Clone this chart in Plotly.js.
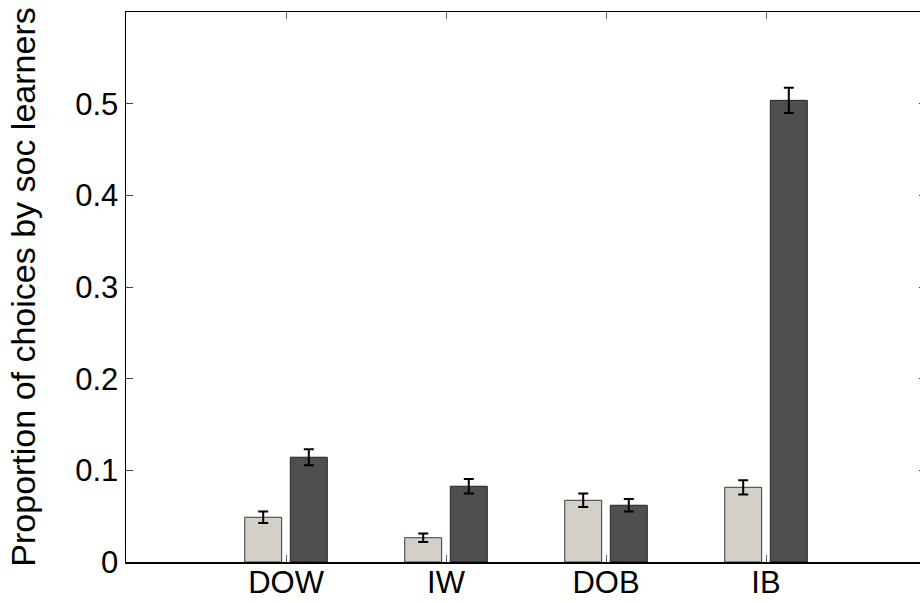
<!DOCTYPE html>
<html>
<head>
<meta charset="utf-8">
<script src="https://cdn.plot.ly/plotly-3.0.1.min.js"></script>
<style>
html,body{margin:0;padding:0;overflow:hidden;background:#fff;}
#chart{width:930px;height:603px;}
</style>
</head>
<body>
<div id="chart"></div>
<script>
// Data
var categories = ["DOW", "IW", "DOB", "IB"];
var lightValues = [0.0488, 0.0265, 0.0673, 0.0815];
var lightErrors = [0.0063, 0.0047, 0.0073, 0.0078];
var darkValues = [0.1143, 0.0826, 0.0619, 0.5036];
var darkErrors = [0.0087, 0.0079, 0.0069, 0.0138];
var yTickValues = [0, 0.1, 0.2, 0.3, 0.4, 0.5];
var yTickLabels = ["0", "0.1", "0.2", "0.3", "0.4", "0.5"];

var FONT = "Liberation Sans, Arial, Helvetica, sans-serif";

var errStyle = {type: "data", visible: true, color: "#000000", thickness: 2, width: 5};

var traces = [
  {
    type: "bar",
    x: categories,
    y: lightValues,
    error_y: Object.assign({array: lightErrors}, errStyle),
    marker: {color: "#d4d0c8", line: {color: "#3a3a3a", width: 1}},
    hoverinfo: "x+y"
  },
  {
    type: "bar",
    x: categories,
    y: darkValues,
    error_y: Object.assign({array: darkErrors}, errStyle),
    marker: {color: "#4f4f4f", line: {color: "#222222", width: 1}},
    hoverinfo: "x+y"
  }
];

var layout = {
  width: 930,
  height: 603,
  margin: {l: 126, r: 4, t: 12, b: 41, pad: 0},
  paper_bgcolor: "#ffffff",
  plot_bgcolor: "#ffffff",
  showlegend: false,
  barmode: "group",
  bargap: 0.43,
  bargroupgap: 0.19,
  font: {family: FONT, size: 31, color: "#000000"},
  xaxis: {
    type: "category",
    range: [-1, 4],
    autorange: false,
    showgrid: false,
    zeroline: false,
    showline: true,
    linecolor: "#000000",
    linewidth: 1.5,
    mirror: "ticks",
    ticks: "inside",
    ticklen: 7,
    tickwidth: 1,
    tickcolor: "#666666",
    ticklabelstandoff: -8,
    tickfont: {family: FONT, size: 31, color: "#000000"},
    automargin: false,
    fixedrange: true
  },
  yaxis: {
    range: [0, 0.6],
    autorange: false,
    showgrid: false,
    zeroline: false,
    showline: true,
    linecolor: "#000000",
    linewidth: 1.5,
    mirror: "ticks",
    ticks: "inside",
    ticklen: 7,
    tickwidth: 1,
    tickcolor: "#444444",
    tickmode: "array",
    tickvals: yTickValues,
    ticktext: yTickLabels,
    tickfont: {family: FONT, size: 31, color: "#000000"},
    title: {
      text: "Proportion of choices by soc learners",
      font: {family: FONT, size: 34, color: "#000000"},
      standoff: 29
    },
    automargin: false,
    fixedrange: true
  }
};

Plotly.newPlot("chart", traces, layout, {displayModeBar: false, staticPlot: true});
</script>
</body>
</html>
